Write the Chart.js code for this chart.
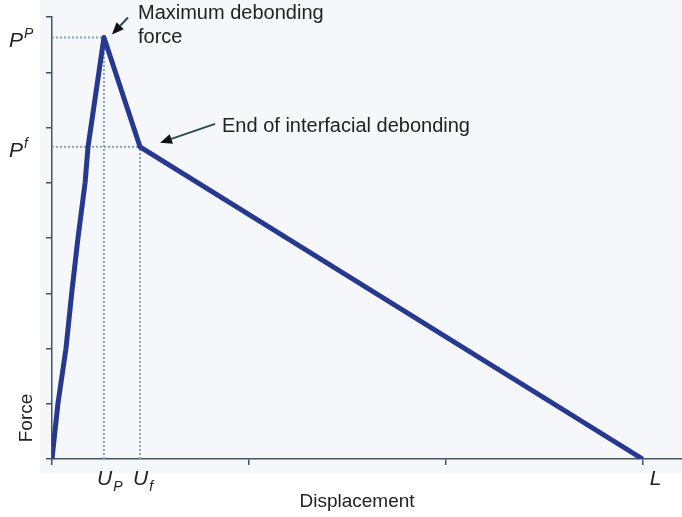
<!DOCTYPE html>
<html>
<head>
<meta charset="utf-8">
<script src="https://cdn.jsdelivr.net/npm/chart.js@4/dist/chart.umd.min.js"></script>
<style>
  html, body { margin: 0; padding: 0; background: #ffffff; }
  #wrap { width: 682px; height: 517px; }
</style>
</head>
<body>
<div id="wrap"><canvas id="forceChart" width="682" height="517"></canvas></div>
<script>
// Force-displacement curve (arbitrary units)
const curveX = [0, 0.03, 0.071, 0.10, 0.132, 0.168, 0.183, 0.264, 0.447, 3.0];
const curveY = [0, 1.0, 2.0, 3.0, 4.0, 5.0, 5.65, 7.63, 5.65, 0];

// characteristic points
const Up = 0.264, Uf = 0.447, Pp = 7.63, Pf = 5.65, L = 3.0;

// custom tick labels
const xMarks = [Up, Uf, L];
const xMarkMain = ['U', 'U', 'L'];
const xMarkSub = ['P', 'f', ''];
const yMarks = [Pp, Pf];
const yMarkMain = ['P', 'P'];
const yMarkSup = ['P', 'f'];

const notes = [['Maximum debonding', 'force'], ['End of interfacial debonding']];

const toPoints = (xs, ys) => xs.map((x, i) => ({ x: x, y: ys[i] }));

const axisColor = '#3e5761';
const guideColor = '#86a6b8';
const textFont = '"Liberation Sans", Arial, Helvetica, sans-serif';

function guide(xs, ys) {
  return {
    data: toPoints(xs, ys),
    showLine: true,
    borderColor: guideColor,
    borderWidth: 2,
    borderDash: [2, 2],
    pointRadius: 0
  };
}

function arrow(ctx, x1, y1, x2, y2) {
  const ang = Math.atan2(y2 - y1, x2 - x1);
  const head = 12, half = 5;
  const bx = x2 - head * Math.cos(ang), by = y2 - head * Math.sin(ang);
  ctx.strokeStyle = '#2e4b55';
  ctx.lineWidth = 2;
  ctx.beginPath();
  ctx.moveTo(x1, y1);
  ctx.lineTo(bx, by);
  ctx.stroke();
  ctx.fillStyle = '#111';
  ctx.beginPath();
  ctx.moveTo(x2, y2);
  ctx.lineTo(bx + half * Math.sin(ang), by - half * Math.cos(ang));
  ctx.lineTo(bx - half * Math.sin(ang), by + half * Math.cos(ang));
  ctx.closePath();
  ctx.fill();
}

const panelPlugin = {
  id: 'panel',
  beforeDraw(chart) {
    const ctx = chart.ctx;
    ctx.save();
    ctx.fillStyle = '#f6f7fb';
    ctx.fillRect(40, 0, chart.width - 40, 473);
    ctx.restore();
  },
  afterDraw(chart) {
    const ctx = chart.ctx;
    const xs = chart.scales.x, ys = chart.scales.y;
    ctx.save();
    ctx.fillStyle = '#222';
    ctx.textBaseline = 'alphabetic';

    // y labels with superscript
    yMarks.forEach((v, i) => {
      const py = ys.getPixelForValue(v);
      ctx.font = 'italic 21px ' + textFont;
      ctx.textAlign = 'left';
      ctx.fillText(yMarkMain[i], 9, py + 10);
      const w = ctx.measureText(yMarkMain[i]).width;
      ctx.font = 'italic 14px ' + textFont;
      ctx.fillText(yMarkSup[i], 9 + w + 1, py + 1);
    });

    // x labels with subscript
    xMarks.forEach((v, i) => {
      const px = xs.getPixelForValue(v);
      ctx.font = 'italic 21px ' + textFont;
      ctx.textAlign = 'left';
      const x0 = xMarkSub[i] ? px - 7 : px + 7;
      ctx.fillText(xMarkMain[i], x0, 485);
      const w = ctx.measureText(xMarkMain[i]).width;
      if (xMarkSub[i]) {
        ctx.font = 'italic 14px ' + textFont;
        ctx.fillText(xMarkSub[i], x0 + w + 1, 491);
      }
    });

    // axis titles
    ctx.font = '19px ' + textFont;
    ctx.textAlign = 'center';
    ctx.fillText('Displacement', 357, 507);
    ctx.save();
    ctx.translate(32, 418);
    ctx.rotate(-Math.PI / 2);
    ctx.fillText('Force', 0, 0);
    ctx.restore();

    // annotations
    const peakX = xs.getPixelForValue(Up), peakY = ys.getPixelForValue(Pp);
    const endX = xs.getPixelForValue(Uf), endY = ys.getPixelForValue(Pf);
    ctx.font = '20px ' + textFont;
    ctx.textAlign = 'left';
    ctx.fillStyle = '#222';
    ctx.fillText(notes[0][0], peakX + 34, 19);
    ctx.fillText(notes[0][1], peakX + 34, 43);
    ctx.fillText(notes[1][0], endX + 82, endY - 15);
    arrow(ctx, peakX + 24, peakY - 20, peakX + 8, peakY - 3);
    arrow(ctx, endX + 75, endY - 23, endX + 20, endY - 4);
    ctx.restore();
  }
};

const ctx = document.getElementById('forceChart').getContext('2d');
const forceChart = new Chart(ctx, {
  type: 'scatter',
  data: {
    datasets: [
      {
        data: toPoints(curveX, curveY),
        showLine: true,
        borderColor: '#27398f',
        borderWidth: 5,
        borderJoinStyle: 'round',
        pointRadius: 0
      },
      guide([0, Up], [Pp, Pp]),
      guide([0, Uf], [Pf, Pf]),
      guide([Up, Up], [0, Pp]),
      guide([Uf, Uf], [0, Pf])
    ]
  },
  options: {
    responsive: false,
    animation: false,
    layout: { padding: { top: 17, left: 0, right: 0, bottom: 0 } },
    plugins: { legend: { display: false }, tooltip: { enabled: false } },
    scales: {
      x: {
        type: 'linear',
        min: 0,
        max: 3.2,
        ticks: { display: false, stepSize: 1 },
        afterBuildTicks: (axis) => { axis.ticks = axis.ticks.filter(t => Number.isInteger(t.value)); },
        afterFit: (axis) => { axis.height = 58; },
        grid: { drawOnChartArea: false, drawTicks: true, tickLength: 6, color: axisColor, lineWidth: 1.5 },
        border: { display: true, color: axisColor, width: 1.5 }
      },
      y: {
        type: 'linear',
        min: 0,
        max: 8,
        ticks: { display: false, stepSize: 1 },
        afterFit: (axis) => { axis.width = 52; },
        grid: { drawOnChartArea: false, drawTicks: true, tickLength: 6, color: axisColor, lineWidth: 1.5 },
        border: { display: true, color: axisColor, width: 1.5 }
      }
    }
  },
  plugins: [panelPlugin]
});
</script>
</body>
</html>
